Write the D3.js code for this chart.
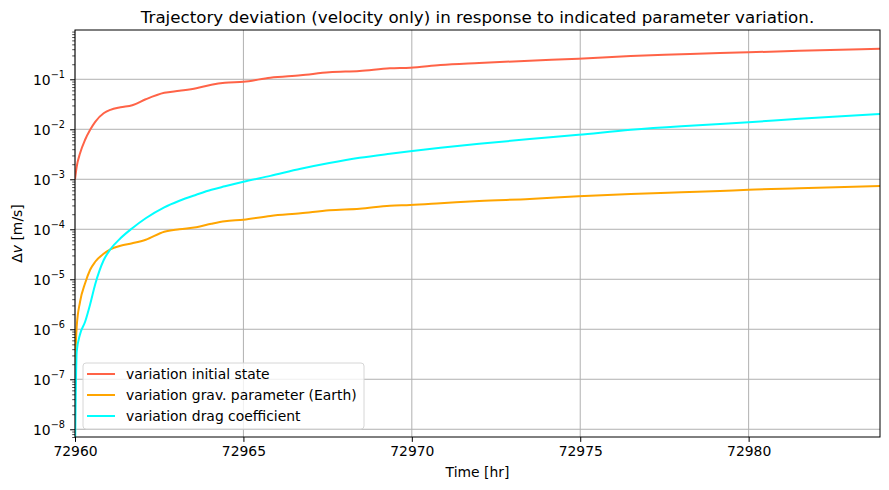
<!DOCTYPE html>
<html>
<head>
<meta charset="utf-8">
<script src="https://cdn.jsdelivr.net/npm/d3@7"></script>
<style>
  body { margin: 0; background: #fff; }
  text { font-family: "DejaVu Sans", sans-serif; fill: #000; }
</style>
</head>
<body>
<div id="chart"></div>
<script>
// hours since start, offset to 72960
var hours = [0, 0.05, 0.15, 0.3, 0.45, 0.6, 0.85, 1.05, 1.35, 1.7, 2.1, 2.65, 3.1, 3.6, 4.05, 4.45,
  5.0, 5.8, 6.7, 7.55, 8.45, 9.35, 9.95, 10.85, 12.0, 13.5, 14.95, 16.5, 18.0, 19.15, 20.0, 21.5, 23.9];
var t0 = 72960;

var initialState = [1.0e-3, 1.78e-3, 3.31e-3, 6.17e-3, 9.77e-3, 1.41e-2, 2.09e-2, 2.45e-2, 2.75e-2, 3.02e-2,
  3.98e-2, 5.37e-2, 5.89e-2, 6.61e-2, 7.76e-2, 8.51e-2, 8.91e-2, 0.1076, 0.1202, 0.138, 0.1466, 0.166,
  0.1706, 0.1932, 0.2118, 0.2355, 0.2582, 0.2924, 0.3162, 0.3357, 0.3467, 0.3715, 0.4093];

var gravParam = [2.0e-7, 1.12e-6, 3.55e-6, 8.32e-6, 1.55e-5, 2.24e-5, 3.24e-5, 3.98e-5, 4.68e-5, 5.25e-5,
  6.17e-5, 8.91e-5, 1.0e-4, 1.10e-4, 1.29e-4, 1.45e-4, 1.55e-4, 1.85e-4, 2.09e-4, 2.40e-4, 2.58e-4,
  2.96e-4, 3.06e-4, 3.31e-4, 3.68e-4, 4.04e-4, 4.57e-4, 5.08e-4, 5.50e-4, 5.83e-4, 6.19e-4, 6.61e-4, 7.35e-4];

var dragCoef = [3.0e-9, 3.55e-7, 7.94e-7, 1.41e-6, 3.16e-6, 7.94e-6, 2.40e-5, 3.98e-5, 6.61e-5, 1.05e-4,
  1.66e-4, 2.75e-4, 3.72e-4, 4.90e-4, 6.17e-4, 7.24e-4, 8.91e-4, 1.17e-3, 1.62e-3, 2.11e-3, 2.69e-3,
  3.24e-3, 3.63e-3, 4.27e-3, 5.13e-3, 6.38e-3, 7.76e-3, 9.77e-3, 1.15e-2, 1.27e-2, 1.38e-2, 1.62e-2, 2.02e-2];

var seriesNames = ["variation initial state", "variation grav. parameter (Earth)", "variation drag coefficient"];
var seriesColors = ["tomato", "orange", "cyan"];
var xTicks = [72960, 72965, 72970, 72975, 72980];
var yExponents = [-8, -7, -6, -5, -4, -3, -2, -1];

var W = 889, H = 490;
var margin = {top: 30, right: 9, bottom: 53, left: 75},
    width = W - margin.left - margin.right,
    height = H - margin.top - margin.bottom;

var fs = '13.9px';

var svg = d3.select('#chart')
  .append('svg')
    .attr('width', W)
    .attr('height', H);

var g = svg.append('g')
    .attr('transform', 'translate(' + margin.left + ',' + margin.top + ')');

var x = d3.scaleLinear()
  .domain([72960, 72983.9])
  .range([0, width]);

var y = d3.scaleLog()
  .domain([7.0e-9, 0.968])
  .range([height, 0]);

// grid
g.selectAll('.gx')
  .data(xTicks)
  .enter().append('line')
    .attr('x1', function(d) { return x(d); })
    .attr('x2', function(d) { return x(d); })
    .attr('y1', 0).attr('y2', height)
    .attr('stroke', '#b0b0b0').attr('stroke-width', 1);

g.selectAll('.gy')
  .data(yExponents)
  .enter().append('line')
    .attr('x1', 0).attr('x2', width)
    .attr('y1', function(d) { return y(Math.pow(10, d)); })
    .attr('y2', function(d) { return y(Math.pow(10, d)); })
    .attr('stroke', '#b0b0b0').attr('stroke-width', 1);

// lines
var allSeries = [initialState, gravParam, dragCoef];
var defs = svg.append('defs');
defs.append('clipPath').attr('id', 'clip')
  .append('rect').attr('width', width).attr('height', height);

var line = d3.line()
  .x(function(d) { return x(d[0]); })
  .y(function(d) { return y(d[1]); })
  .curve(d3.curveMonotoneX);

allSeries.forEach(function(vals, i) {
  var pts = hours.map(function(h, j) { return [t0 + h, vals[j]]; });
  g.append('path')
    .datum(pts)
    .attr('clip-path', 'url(#clip)')
    .attr('d', line)
    .attr('fill', 'none')
    .attr('stroke', seriesColors[i])
    .attr('stroke-width', 2);
});

// x axis
var xAxis = g.append('g')
  .attr('transform', 'translate(0,' + height + ')')
  .call(d3.axisBottom(x).tickValues(xTicks).tickFormat(d3.format('d')).tickSize(4.9).tickPadding(4));
xAxis.select('.domain').remove();
xAxis.selectAll('line').attr('stroke-width', 1);
xAxis.selectAll('text').style('font-size', fs).style('font-family', '"DejaVu Sans", sans-serif');

// y axis minor ticks
var minor = [];
for (var e = -9; e <= 0; e++) {
  for (var k = 2; k <= 9; k++) {
    var v = k * Math.pow(10, e);
    if (v >= y.domain()[0] && v <= y.domain()[1]) minor.push(v);
  }
}
var yMinor = g.append('g')
  .call(d3.axisLeft(y).tickValues(minor).tickFormat('').tickSize(2.8));
yMinor.select('.domain').remove();
yMinor.selectAll('line').attr('stroke-width', 0.7);

var yAxis = g.append('g')
  .call(d3.axisLeft(y).tickValues(yExponents.map(function(d) { return Math.pow(10, d); }))
    .tickFormat('').tickSize(4.9));
yAxis.select('.domain').remove();
yAxis.selectAll('line').attr('stroke-width', 1);

var yLab = g.selectAll('.ylab')
  .data(yExponents)
  .enter().append('text')
    .attr('x', -10)
    .attr('y', function(d) { return y(Math.pow(10, d)) + 5.5; })
    .attr('text-anchor', 'end')
    .style('font-size', fs);
yLab.append('tspan').text('10');
yLab.append('tspan')
  .attr('dy', -6.5)
  .style('font-size', '9.7px')
  .text(function(d) { return '\u2212' + Math.abs(d); });

// spines
g.append('rect')
  .attr('width', width).attr('height', height)
  .attr('fill', 'none').attr('stroke', '#000').attr('stroke-width', 1);

// title & labels
svg.append('text')
  .attr('x', margin.left + width / 2)
  .attr('y', 22.5)
  .attr('text-anchor', 'middle')
  .style('font-size', '16.7px')
  .text('Trajectory deviation (velocity only) in response to indicated parameter variation.');

svg.append('text')
  .attr('x', margin.left + width / 2)
  .attr('y', 477)
  .attr('text-anchor', 'middle')
  .style('font-size', fs)
  .text('Time [hr]');

var yl = svg.append('text')
  .attr('transform', 'translate(22,' + (margin.top + height / 2) + ') rotate(-90)')
  .attr('text-anchor', 'middle')
  .style('font-size', fs);
yl.append('tspan').text('\u0394');
yl.append('tspan').style('font-style', 'italic').text('v');
yl.append('tspan').text(' [m/s]');

// legend
var lg = g.append('g').attr('transform', 'translate(8,333)');
lg.append('rect')
  .attr('width', 281).attr('height', 66)
  .attr('rx', 3)
  .attr('fill', '#fff').attr('fill-opacity', 0.8)
  .attr('stroke', '#d6d6d6').attr('stroke-width', 1);

seriesNames.forEach(function(name, i) {
  var yy = 11 + i * 21;
  lg.append('line')
    .attr('x1', 4).attr('x2', 32)
    .attr('y1', yy).attr('y2', yy)
    .attr('stroke', seriesColors[i]).attr('stroke-width', 2);
  lg.append('text')
    .attr('x', 43).attr('y', yy + 5)
    .style('font-size', fs)
    .text(name);
});
</script>
</body>
</html>
